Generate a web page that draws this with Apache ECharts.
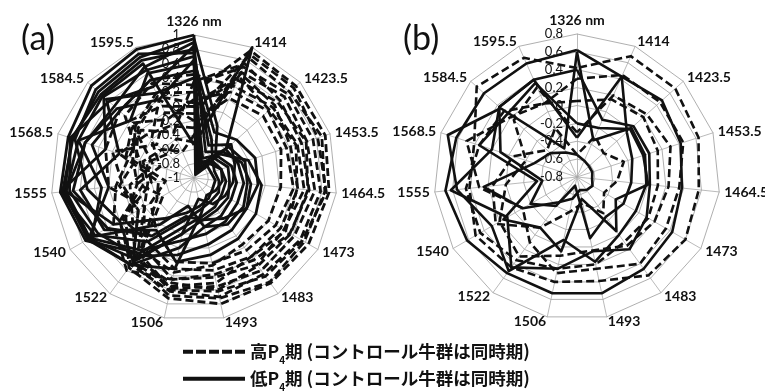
<!DOCTYPE html>
<html>
<head>
<meta charset="utf-8">
<script src="https://cdn.jsdelivr.net/npm/echarts@6/dist/echarts.min.js"></script>
<style>
html, body { margin: 0; padding: 0; background: #fff; }
#chart { width: 765px; height: 392px; }
</style>
</head>
<body>
<div id="chart"></div>
<script>
// Wavelength axes, listed clockwise starting from the top
const wavelengths = ['1326 nm', '1414', '1423.5', '1453.5', '1464.5', '1473', '1483',
  '1493', '1506', '1522', '1540', '1555', '1568.5', '1584.5', '1595.5'];

// Value ranges and step of the two radar scales
const rangeA = [-1, 1];
const rangeB = [-0.8, 0.8];
const stepAB = 0.2;

// Legend text pieces (the middle piece is drawn as a subscript)
const legendHigh = ['高P', '4', '期 (コントロール牛群は同時期)'];
const legendLow = ['低P', '4', '期 (コントロール牛群は同時期)'];

// Panel (a): low-P4 profiles (solid)
const aLow1 = [1.0, -0.9, -0.7, -0.6, -0.55, -0.55, -0.5, -0.45, -0.3, 0.3, 0.75, 0.88, 0.85, 0.93, 0.97];
const aLow2 = [0.95, -0.2, -0.6, -0.5, -0.5, -0.45, -0.45, -0.4, -0.2, 0.4, 0.7, 0.85, 0.78, 0.8, 0.85];
const aLow3 = [0.8, -0.85, -0.55, -0.45, -0.4, -0.4, -0.35, -0.3, 0.0, 0.5, 0.72, 0.82, 0.8, 0.75, 0.8];
const aLow4 = [-0.54, 1.0, -0.4, -0.35, -0.3, -0.3, -0.25, -0.2, -0.1, 0.25, 0.68, 0.8, 0.7, 0.72, 0.75];
const aLow5 = [0.7, -0.75, -0.65, -0.7, -0.65, -0.6, -0.6, -0.55, -0.4, 0.1, 0.6, 0.88, 0.3, 0.7, 0.65];
const aLow6 = [0.85, -0.6, -0.45, -0.3, -0.2, -0.15, -0.1, -0.05, 0.1, 0.35, 0.55, 0.75, 0.82, 0.6, 0.4];
const aLow7 = [0.6, -0.8, -0.35, -0.25, -0.25, -0.2, -0.2, -0.3, -0.6, -0.2, 0.65, 0.3, 0.7, 0.2, 0.6];
const aLow8 = [0.9, -0.95, -0.75, -0.75, -0.7, -0.7, -0.65, -0.6, -0.5, -0.3, 0.3, 0.8, 0.6, 0.5, 0.7];
const aLow9 = [0.4, -0.7, -0.5, -0.2, -0.05, 0.0, 0.05, 0.1, 0.2, -0.1, 0.45, 0.6, 0.1, 0.65, 0.3];
const aLow10 = [0.75, -0.5, -0.3, -0.4, -0.45, -0.5, -0.55, -0.7, -0.2, 0.45, 0.2, 0.5, 0.75, 0.85, 0.9];
const aLow11 = [0.5, -0.4, -0.65, -0.6, -0.6, -0.65, -0.7, -0.5, 0.3, 0.5, 0.7, 0.2, 0.5, 0.4, 0.5];
const aLow12 = [0.65, -0.3, -0.2, -0.1, -0.1, -0.15, -0.3, -0.4, -0.45, 0.0, 0.4, 0.7, 0.6, 0.45, 0.2];

// Panel (a): high-P4 profiles (dashed)
const aHigh1 = [0.2, 0.95, 0.92, 0.93, 0.9, 0.85, 0.82, 0.8, 0.72, 0.55, 0.1, -0.2, -0.1, 0.1, 0.3];
const aHigh2 = [-0.1, 0.85, 0.8, 0.88, 0.84, 0.78, 0.8, 0.72, 0.68, 0.45, -0.1, 0.0, 0.2, -0.3, 0.0];
const aHigh3 = [0.3, 0.7, 0.76, 0.75, 0.78, 0.72, 0.66, 0.7, 0.62, 0.5, 0.2, -0.3, -0.2, 0.3, 0.45];
const aHigh4 = [-0.3, 0.62, 0.7, 0.66, 0.7, 0.62, 0.6, 0.55, 0.58, 0.3, -0.4, -0.5, 0.1, -0.1, -0.2];
const aHigh5 = [0.0, 0.5, 0.58, 0.65, 0.6, 0.56, 0.52, 0.6, 0.5, 0.4, 0.0, -0.1, -0.4, 0.2, 0.1];
const aHigh6 = [0.45, 0.4, 0.48, 0.52, 0.55, 0.45, 0.5, 0.42, 0.45, 0.2, -0.2, 0.2, 0.3, 0.4, 0.5];
const aHigh7 = [-0.5, 0.6, 0.52, 0.42, 0.46, 0.4, 0.36, 0.32, 0.3, 0.1, 0.15, -0.4, -0.3, -0.5, -0.4];
const aHigh8 = [0.1, 0.32, 0.4, 0.36, 0.4, 0.32, 0.25, 0.22, 0.2, -0.1, -0.3, -0.6, 0.0, 0.15, -0.1];
const aHigh9 = [-0.2, 0.22, 0.3, 0.28, 0.22, 0.2, 0.15, 0.25, 0.35, 0.25, -0.5, -0.2, -0.5, -0.2, 0.2];
const aHigh10 = [0.35, 0.75, 0.62, 0.58, 0.62, 0.55, 0.42, 0.38, 0.45, 0.6, 0.3, 0.1, -0.05, 0.0, -0.3];
const aHigh11 = [-0.4, 0.9, 0.88, 0.82, 0.86, 0.75, 0.7, 0.62, 0.6, 0.35, -0.2, -0.35, -0.25, -0.4, -0.6];
const aHigh12 = [0.05, 0.55, 0.42, 0.5, 0.45, 0.48, 0.36, 0.5, 0.55, 0.45, -0.1, 0.05, -0.15, 0.05, 0.25];

// Panel (b): low-P4 profiles (solid)
const bLow1 = [0.62, 0.43, 0.48, 0.42, 0.38, 0.43, 0.47, 0.53, 0.53, 0.53, 0.62, 0.68, 0.62, 0.6, 0.59];
const bLow2 = [0.6, -0.35, 0.02, 0.0, -0.02, -0.04, 0.0, 0.17, -0.08, 0.5, 0.3, 0.55, 0.72, 0.35, -0.45];
const bLow3 = [0.4, -0.1, 0.05, 0.05, 0.02, 0.1, 0.2, 0.05, 0.25, 0.45, 0.1, 0.62, 0.2, 0.37, 0.39];
const bLow4 = [-0.36, 0.43, -0.05, -0.15, -0.19, -0.2, -0.25, -0.1, -0.7, -0.4, -0.2, -0.41, 0.1, 0.37, 0.39];
const bLow5 = [-0.2, -0.2, 0.0, -0.02, 0.0, -0.3, -0.05, -0.55, 0.05, -0.1, 0.15, -0.35, 0.35, 0.25, 0.35];
const bLow6 = [-0.55, -0.6, -0.62, -0.62, -0.63, -0.6, -0.62, -0.65, -0.55, -0.45, -0.1, 0.25, -0.3, -0.4, -0.5];

// Panel (b): high-P4 profiles (dashed)
const bHigh1 = [0.42, 0.68, 0.68, 0.63, 0.57, 0.6, 0.56, 0.39, 0.4, 0.45, 0.51, 0.41, 0.41, 0.71, 0.66];
const bHigh2 = [0.05, 0.15, 0.2, 0.15, 0.11, 0.12, 0.1, 0.2, 0.25, 0.35, 0.45, 0.45, 0.35, 0.3, 0.1];
const bHigh3 = [-0.3, 0.2, 0.25, 0.3, 0.23, 0.2, 0.15, 0.04, 0.1, 0.3, 0.2, 0.0, -0.2, 0.15, 0.3];
const bHigh4 = [0.3, 0.45, 0.45, 0.45, 0.35, 0.35, 0.4, 0.25, 0.3, 0.1, -0.1, 0.3, 0.5, 0.2, 0.1];
const bHigh5 = [-0.55, -0.3, -0.4, -0.25, -0.35, -0.45, -0.3, -0.5, -0.4, -0.1, 0.25, 0.15, -0.05, -0.35, -0.2];

const aLow = [aLow1, aLow2, aLow3, aLow4, aLow5, aLow6, aLow7, aLow8, aLow9, aLow10, aLow11, aLow12];
const aHigh = [aHigh1, aHigh2, aHigh3, aHigh4, aHigh5, aHigh6, aHigh7, aHigh8, aHigh9, aHigh10, aHigh11, aHigh12];
const bLow = [bLow1, bLow2, bLow3, bLow4, bLow5, bLow6];
const bHigh = [bHigh1, bHigh2, bHigh3, bHigh4, bHigh5];

const highName = legendHigh.join('');
const lowName = legendLow.join('');

// ECharts lays radar indicators out counter-clockwise, so feed them in reverse
// (keeping the first one on top) to get a clockwise layout.
const order = wavelengths.map((_, i) => (i === 0 ? 0 : wavelengths.length - i));
const reorder = arr => order.map(i => arr[i]);

const INK = '#111';
const latin = 'Lato, "Noto Sans", sans-serif';
const cjk = '"Noto Sans CJK JP", sans-serif';

function makeRadar(center, range) {
  return {
    center: center,
    radius: 143,
    startAngle: 90,
    shape: 'polygon',
    splitNumber: Math.round((range[1] - range[0]) / stepAB),
    nameGap: 5,
    axisName: { color: INK, fontFamily: latin, fontWeight: 'bold', fontSize: 14 },
    indicator: order.map((i, j) => {
      const ind = { name: wavelengths[i], min: range[0], max: range[1] };
      if (j === 0) {
        ind.axisLabel = {
          show: true, color: INK, fontFamily: latin, fontSize: 13, margin: 14,
          formatter: v => String(Math.round(v * 10) / 10)
        };
      }
      return ind;
    }),
    splitLine: { lineStyle: { color: '#9a9a9a', width: 0.8 } },
    splitArea: { show: false },
    axisLine: { lineStyle: { color: '#a8a8a8', width: 0.8 } },
    axisTick: { show: false },
    axisLabel: { show: false }
  };
}

function makeSeries(radarIndex, rows, name, dashed, width) {
  return {
    type: 'radar',
    radarIndex: radarIndex,
    symbol: 'none',
    silent: true,
    itemStyle: { color: INK },
    lineStyle: { color: INK, width: width, type: dashed ? [8, 4] : 'solid', opacity: 1 },
    data: rows.map(r => ({ name: name, value: reorder(r) }))
  };
}

function legendLabel(name) {
  const parts = name === highName ? legendHigh : legendLow;
  return '{t|' + parts[0] + '}{s|' + parts[1] + '}{t|' + parts[2] + '}';
}

function makeLegend(name, icon, top) {
  return {
    left: 178,
    top: top,
    itemWidth: 62,
    itemHeight: 4,
    symbolKeepAspect: false,
    selectedMode: false,
    data: [{ name: name, icon: icon }],
    formatter: legendLabel,
    textStyle: {
      color: INK,
      rich: {
        t: { fontFamily: cjk, fontWeight: 'bold', fontSize: 17.5, color: INK, lineHeight: 20 },
        s: { fontFamily: cjk, fontWeight: 'bold', fontSize: 10, color: INK, verticalAlign: 'bottom', lineHeight: 20, padding: [0, 0, -3, 0] }
      }
    }
  };
}

const chart = echarts.init(document.getElementById('chart'), null, { renderer: 'canvas' });
chart.setOption({
  animation: false,
  backgroundColor: '#fff',
  title: [
    { text: '(a)', left: 16, top: 17, textStyle: { fontFamily: latin, fontWeight: 'normal', fontSize: 34, color: INK } },
    { text: '(b)', left: 398, top: 17, textStyle: { fontFamily: latin, fontWeight: 'normal', fontSize: 34, color: INK } }
  ],
  radar: [makeRadar([194, 178], rangeA), makeRadar([577, 177], rangeB)],
  legend: [
    makeLegend(highName, 'path://M0 0H10V3H0Z M13 0H23V3H13Z M26 0H36V3H26Z M39 0H49V3H39Z M52 0H62V3H52Z', 338),
    makeLegend(lowName, 'path://M0 0H62V3H0Z', 365)
  ],
  series: [
    makeSeries(0, aHigh, highName, true, 2.8),
    makeSeries(0, aLow, lowName, false, 2.8),
    makeSeries(1, bHigh, highName, true, 2.6),
    makeSeries(1, bLow, lowName, false, 2.6)
  ]
});
</script>
</body>
</html>
